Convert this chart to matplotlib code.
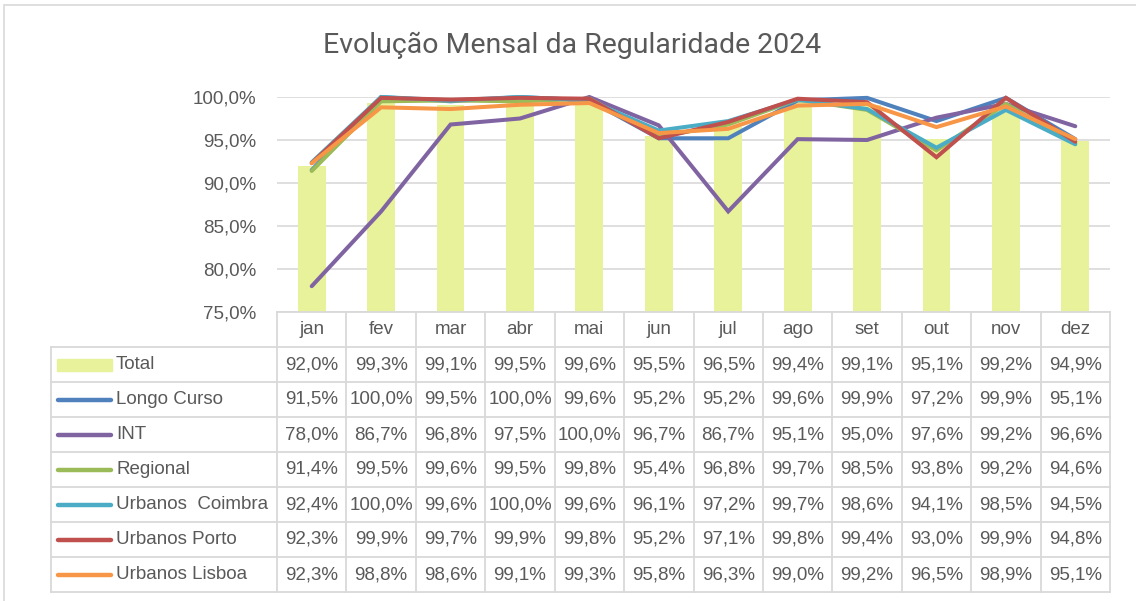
import matplotlib
matplotlib.use('Agg')
import matplotlib.pyplot as plt
from matplotlib.lines import Line2D
from matplotlib.patches import Rectangle

months = ['jan', 'fev', 'mar', 'abr', 'mai', 'jun', 'jul', 'ago', 'set', 'out', 'nov', 'dez']

total = [92.0, 99.3, 99.1, 99.5, 99.6, 95.5, 96.5, 99.4, 99.1, 95.1, 99.2, 94.9]
longo_curso = [91.5, 100.0, 99.5, 100.0, 99.6, 95.2, 95.2, 99.6, 99.9, 97.2, 99.9, 95.1]
int_ = [78.0, 86.7, 96.8, 97.5, 100.0, 96.7, 86.7, 95.1, 95.0, 97.6, 99.2, 96.6]
regional = [91.4, 99.5, 99.6, 99.5, 99.8, 95.4, 96.8, 99.7, 98.5, 93.8, 99.2, 94.6]
urb_coimbra = [92.4, 100.0, 99.6, 100.0, 99.6, 96.1, 97.2, 99.7, 98.6, 94.1, 98.5, 94.5]
urb_porto = [92.3, 99.9, 99.7, 99.9, 99.8, 95.2, 97.1, 99.8, 99.4, 93.0, 99.9, 94.8]
urb_lisboa = [92.3, 98.8, 98.6, 99.1, 99.3, 95.8, 96.3, 99.0, 99.2, 96.5, 98.9, 95.1]

line_names = ['Longo Curso', 'INT', 'Regional', 'Urbanos  Coimbra', 'Urbanos Porto', 'Urbanos Lisboa']
line_values = [longo_curso, int_, regional, urb_coimbra, urb_porto, urb_lisboa]
line_colors = ['#4F81BD', '#8064A2', '#9BBB59', '#4BACC6', '#C0504D', '#F79646']
bar_color = '#E8F29A'

W, H = 1136, 601
txt = '#595959'
grid = '#D9D9D9'
font = 'Liberation Sans'


def fx(px):
    return px / W


def fy(py):
    return 1 - py / H


fig = plt.figure(figsize=(11.36, 6.01), dpi=100)

# outer chart border
fig.add_artist(Rectangle((fx(4), fy(700)), fx(1300), fy(5) - fy(700), fill=False,
                         edgecolor=grid, linewidth=1.2, transform=fig.transFigure))

fig.text(fx(572), fy(45), 'Evolução Mensal da Regularidade 2024', ha='center', va='center',
         fontsize=20.5, color=txt, family=['Roboto', 'DejaVu Sans'])

left, right, top, bottom = 277, 1110, 97, 312
ax = fig.add_axes([fx(left), fy(bottom), fx(right) - fx(left), fy(top) - fy(bottom)])
x = list(range(len(months)))
ax.bar(x, [v / 100 for v in total], width=0.4, color=bar_color, zorder=2)
for vals, c in zip(line_values, line_colors):
    ax.plot(x, [v / 100 for v in vals], color=c, linewidth=2.9, zorder=3, clip_on=False,
            solid_capstyle='round', solid_joinstyle='miter')
ax.set_xlim(-0.5, 11.5)
ax.set_ylim(0.75, 1.0)
ax.set_yticks([0.75, 0.80, 0.85, 0.90, 0.95, 1.0])
ax.set_yticklabels(['75,0%', '80,0%', '85,0%', '90,0%', '95,0%', '100,0%'])
ax.tick_params(axis='y', length=0, pad=15, labelsize=13.5, labelcolor=txt)
ax.tick_params(axis='x', length=0, labelbottom=False)
for lab in ax.get_yticklabels():
    lab.set_family(font)
ax.grid(axis='y', color=grid, linewidth=1.2, zorder=0)
for s in ax.spines.values():
    s.set_visible(False)

# data table below the axis
col_w = (right - left) / 12
row_h = 35
header_top = 312
rows_top = 347
n_rows = 7
table_left = 51
table_bottom = rows_top + n_rows * row_h
lw = 1.3

def hline(y, x0, x1):
    fig.add_artist(Line2D([fx(x0), fx(x1)], [fy(y), fy(y)], color=grid, linewidth=lw,
                          transform=fig.transFigure))

def vline(xp, y0, y1):
    fig.add_artist(Line2D([fx(xp), fx(xp)], [fy(y0), fy(y1)], color=grid, linewidth=lw,
                          transform=fig.transFigure))

hline(header_top, left, right)
for i in range(n_rows + 1):
    hline(rows_top + i * row_h, table_left, right)
for j in range(13):
    vline(left + j * col_w, header_top, table_bottom)
vline(table_left, rows_top, table_bottom)

for j, m in enumerate(months):
    fig.text(fx(left + (j + 0.5) * col_w), fy(header_top + 18), m, ha='center', va='center',
             fontsize=13.5, color=txt, family=font)

table_names = ['Total'] + line_names
table_values = [total] + line_values
for i, (name, vals) in enumerate(zip(table_names, table_values)):
    yc = rows_top + (i + 0.5) * row_h
    if i == 0:
        fig.add_artist(Rectangle((fx(57), fy(yc + 6)), fx(112) - fx(57), fy(yc - 6) - fy(yc + 6),
                                 color=bar_color, transform=fig.transFigure))
    else:
        fig.add_artist(Line2D([fx(58), fx(111)], [fy(yc), fy(yc)], color=line_colors[i - 1],
                              linewidth=3.2, solid_capstyle='round', transform=fig.transFigure))
    fig.text(fx(116), fy(yc), name, ha='left', va='center', fontsize=13.5, color=txt, family=font)
    for j, v in enumerate(vals):
        fig.text(fx(left + (j + 0.5) * col_w), fy(yc), f'{v:.1f}%'.replace('.', ','),
                 ha='center', va='center', fontsize=13.5, color=txt, family=font)

fig.savefig('out.png', dpi=100)
